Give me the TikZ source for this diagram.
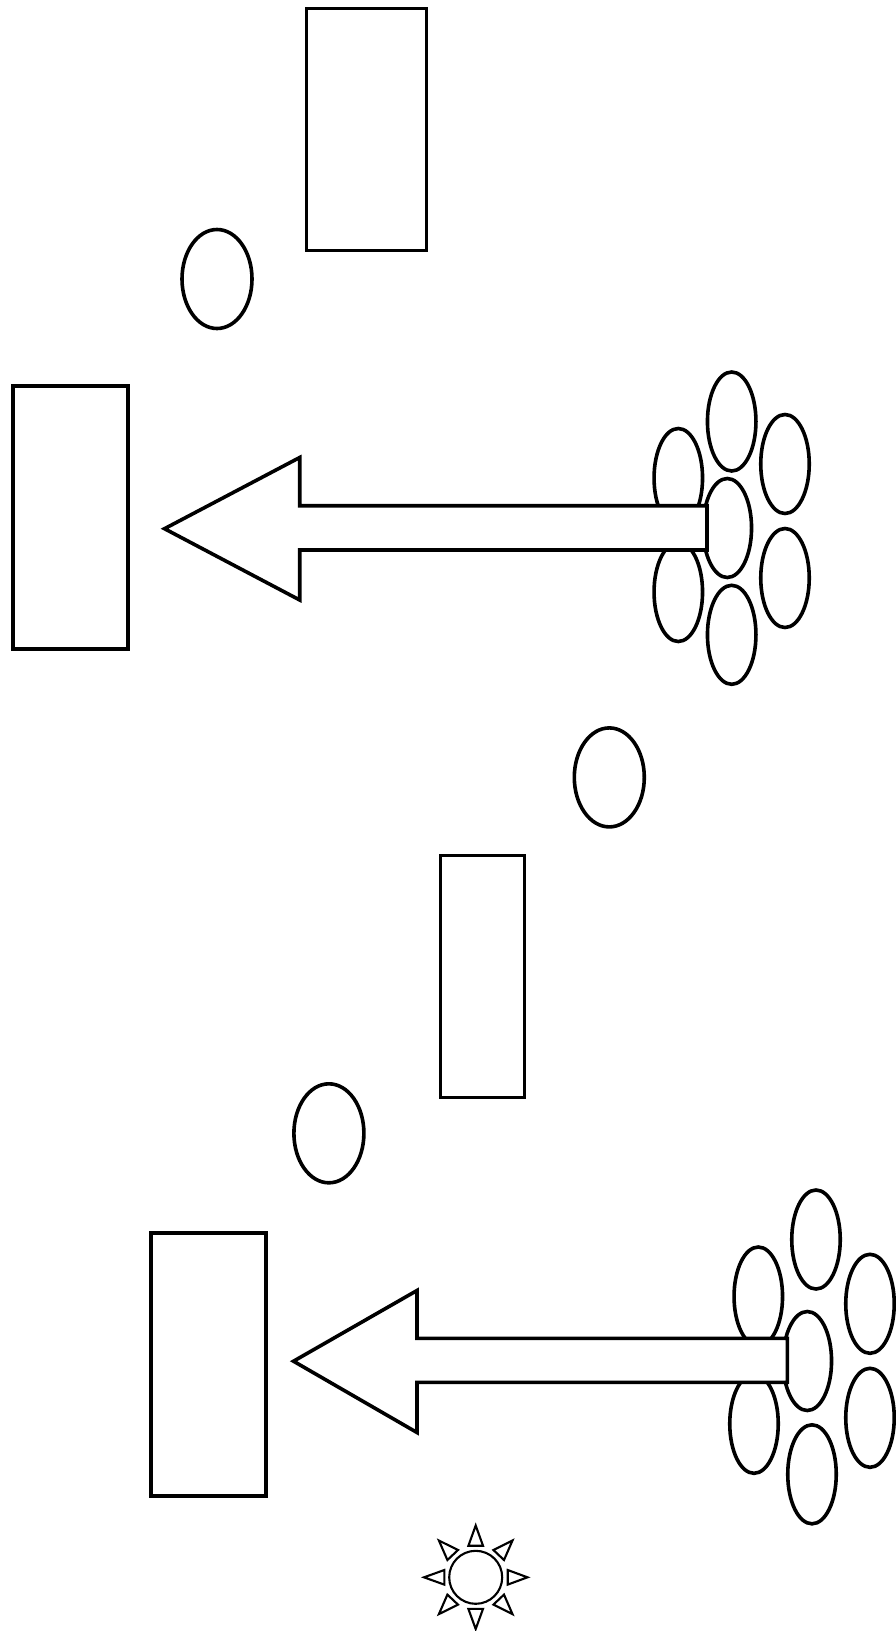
\documentclass[tikz,border=0pt]{standalone}
\usetikzlibrary{shapes.geometric}
\tikzset{
  petal/.style={draw, ellipse, line width=3.6pt, fill=white, minimum width=48.5pt, minimum height=99pt, inner sep=0pt},
  ballon/.style={draw, ellipse, line width=3.6pt, minimum width=70pt, minimum height=99pt, inner sep=0pt},
  block/.style={draw, line width=3.6pt, inner sep=0pt},
  pointer/.style={draw, line width=3.6pt, fill=white, line join=miter},
  sunline/.style={draw, line width=2.1pt, line join=miter}
}
\begin{document}
\begin{tikzpicture}[x=1pt,y=-1pt]
\useasboundingbox (0,0) rectangle (896,1631);
\node[block, minimum width=120pt, minimum height=242pt] (blk0) at (366.4,129.5){};
\node[ballon] (bal0) at (217,279){};
\node[block, minimum width=115pt, minimum height=263pt] (blk1) at (70.3,517.7){};
\node[petal] (pet0) at (731.7,421.5){};
\node[petal] (pet1) at (785,464){};
\node[petal] (pet2) at (785,578){};
\node[petal] (pet3) at (731.7,634.8){};
\node[petal] (pet4) at (727.3,528){};
\node[petal] (pet5) at (678.3,478){};
\node[petal] (pet6) at (678.3,592){};
\draw[pointer] (707,505.7) -- (299.7,505.7) -- (299.7,457.5) -- (164.5,528.7) -- (299.7,600) -- (299.7,550) -- (707,550) -- cycle;
\node[ballon] (bal1) at (609.3,777.4){};
\node[block, minimum width=84pt, minimum height=242pt] (blk2) at (482.6,976.4){};
\node[ballon] (bal2) at (328.9,1133.3){};
\node[block, minimum width=115pt, minimum height=263pt] (blk3) at (208.6,1364.5){};
\node[petal] (pet7) at (816,1239.5){};
\node[petal] (pet8) at (870,1303.8){};
\node[petal] (pet9) at (870,1417.8){};
\node[petal] (pet10) at (812,1474.3){};
\node[petal] (pet11) at (807.3,1361){};
\node[petal] (pet12) at (758.3,1296.5){};
\node[petal] (pet13) at (754,1423.8){};
\draw[pointer] (787.3,1338.3) -- (417,1338.3) -- (417,1290.5) -- (293.5,1361.2) -- (417,1432.5) -- (417,1382.3) -- (787.3,1382.3) -- cycle;
\node[draw, circle, line width=2.1pt, minimum size=53pt, inner sep=0pt] (sun) at (475.7,1577.3){};
\draw[sunline] (475.7,1525.5) -- (468.4,1545.7) -- (483,1545.7) -- cycle;
\draw[sunline] (475.7,1629) -- (468.4,1608.9) -- (483,1608.9) -- cycle;
\draw[sunline] (527.5,1577.3) -- (507.7,1570) -- (507.7,1584.6) -- cycle;
\draw[sunline] (424,1577.3) -- (444.3,1570) -- (444.3,1584.6) -- cycle;
\draw[sunline] (512.5,1540.5) -- (493.4,1550) -- (504,1560) -- cycle;
\draw[sunline] (438.9,1540.5) -- (458,1550) -- (447.4,1560) -- cycle;
\draw[sunline] (512.5,1614.1) -- (493.4,1604.6) -- (504,1594.6) -- cycle;
\draw[sunline] (438.9,1614.1) -- (458,1604.6) -- (447.4,1594.6) -- cycle;
\end{tikzpicture}
\end{document}
